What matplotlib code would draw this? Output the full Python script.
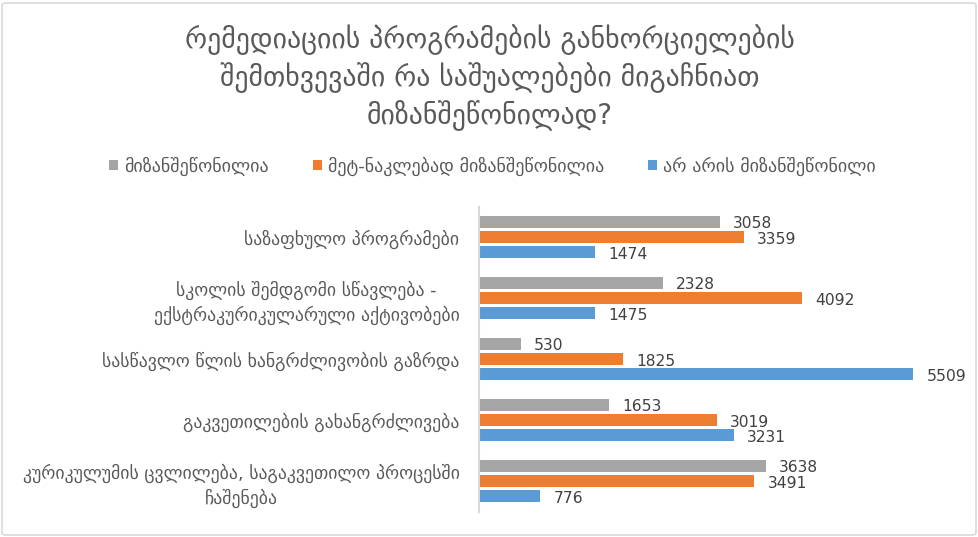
import matplotlib
matplotlib.use("Agg")
import matplotlib.pyplot as plt
from matplotlib.patches import FancyBboxPatch, Patch
import numpy as np

title = "რემედიაციის პროგრამების განხორციელების\nშემთხვევაში რა საშუალებები მიგაჩნიათ\nმიზანშეწონილად?"
categories = [
    "საზაფხულო პროგრამები",
    "სკოლის შემდგომი სწავლება -\nექსტრაკურიკულარული აქტივობები",
    "სასწავლო წლის ხანგრძლივობის გაზრდა",
    "გაკვეთილების გახანგრძლივება",
    "კურიკულუმის ცვლილება, საგაკვეთილო პროცესში\nჩაშენება",
]
series_names = ["მიზანშეწონილია", "მეტ-ნაკლებად მიზანშეწონილია", "არ არის მიზანშეწონილი"]
s_ok = [3058, 2328, 530, 1653, 3638]
s_mid = [3359, 4092, 1825, 3019, 3491]
s_no = [1474, 1475, 5509, 3231, 776]
colors = ["#A5A5A5", "#ED7D31", "#5B9BD5"]

plt.rcParams['font.family'] = ['DejaVu Sans']

W, H = 979, 537
fig = plt.figure(figsize=(W / 100, H / 100), dpi=100)

# outer border
border = FancyBboxPatch((2 / W, 2 / H), (W - 5) / W, (H - 5) / H,
                        boxstyle="round,pad=0,rounding_size=0.004",
                        transform=fig.transFigure, fill=False,
                        edgecolor="#D9D9D9", linewidth=1.2)
fig.patches.append(border)

left, right = 479, 952
top, bottom = 206.5, 511.5
ax = fig.add_axes([left / W, 1 - bottom / H, (right - left) / W, (bottom - top) / H])

n = len(categories)
y = np.arange(n)
bh = 0.19
step = 0.25
for i, (vals, c) in enumerate(zip([s_ok, s_mid, s_no], colors)):
    pos = y + (i - 1) * step
    ax.barh(pos, vals, height=bh, color=c, zorder=2)
    for p, v in zip(pos, vals):
        ax.annotate(f"{v}", (v, p), xytext=(9.5, -1.5), textcoords="offset points",
                    va="center", ha="left", fontsize=11.2, color="#404040")

ax.set_ylim(n - 0.5, -0.5)
ax.set_xlim(0, 6000)
ax.set_yticks(y)
ax.set_yticklabels(categories, fontsize=12.8, color="#595959", ha="right",
                   multialignment="center", linespacing=1.35)
ax.tick_params(axis="y", length=0, pad=14)
ax.set_xticks([])
for s in ["top", "right", "bottom"]:
    ax.spines[s].set_visible(False)
ax.spines["left"].set_color("#D9D9D9")
ax.spines["left"].set_linewidth(1.5)

fig.text(0.5, 1 - 77.5 / H, title, ha="center", va="center", fontsize=20,
         color="#595959", linespacing=1.3)

handles = [Patch(facecolor=c, edgecolor="none") for c in colors]
fig.legend(handles, series_names, loc="center", bbox_to_anchor=(0.503, 1 - 166 / H),
           ncol=3, frameon=False, fontsize=13, labelcolor="#595959",
           handlelength=0.5, handleheight=0.5, handletextpad=0.35, columnspacing=2.4)

fig.savefig("out.png", dpi=100)
